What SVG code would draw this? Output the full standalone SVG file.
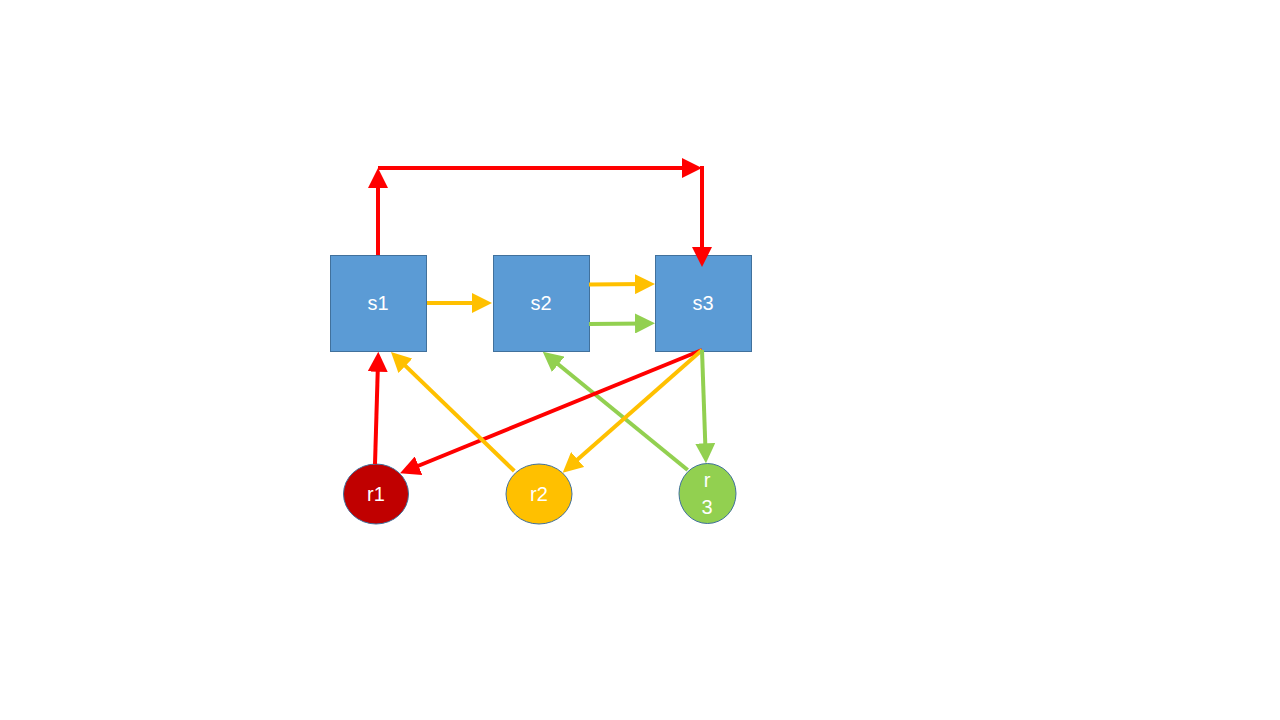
<svg xmlns="http://www.w3.org/2000/svg" width="1280" height="720" viewBox="0 0 1280 720">
<style>
.box{fill:#5B9BD5;stroke:#41719C;stroke-width:1}
.lbl{font-family:"Liberation Sans","Noto Sans",sans-serif;font-size:20px;fill:#FFFFFF;text-anchor:middle}
.ln{fill:none;stroke-width:4}
.red{stroke:#FF0000}
.yel{stroke:#FFC000}
.grn{stroke:#92D050}
.circ{stroke:#41719C;stroke-width:1}
</style>
<defs>
<marker id="aR" markerUnits="userSpaceOnUse" markerWidth="20" markerHeight="20" refX="10" refY="10" orient="auto" viewBox="0 0 20 20"><path d="M0,0 L20,10 L0,20 z" fill="#FF0000"/></marker>
<marker id="aY" markerUnits="userSpaceOnUse" markerWidth="20" markerHeight="20" refX="10" refY="10" orient="auto" viewBox="0 0 20 20"><path d="M0,0 L20,10 L0,20 z" fill="#FFC000"/></marker>
<marker id="aG" markerUnits="userSpaceOnUse" markerWidth="20" markerHeight="20" refX="10" refY="10" orient="auto" viewBox="0 0 20 20"><path d="M0,0 L20,10 L0,20 z" fill="#92D050"/></marker>
</defs>
<rect width="1280" height="720" fill="#FFFFFF"/>
<g id="s1"><rect class="box" x="330.5" y="255.5" width="96" height="96"/><text class="lbl" x="378" y="310">s1</text></g>
<g id="s2"><rect class="box" x="493.5" y="255.5" width="96" height="96"/><text class="lbl" x="541" y="310">s2</text></g>
<g id="s3"><rect class="box" x="655.5" y="255.5" width="96" height="96"/><text class="lbl" x="703" y="310">s3</text></g>
<g id="r1"><ellipse class="circ" cx="376" cy="494" rx="32.5" ry="30" fill="#C00000"/><text class="lbl" x="376" y="501">r1</text></g>
<g id="r2"><ellipse class="circ" cx="539" cy="494" rx="33" ry="30" fill="#FFC000"/><text class="lbl" x="539" y="501">r2</text></g>
<g id="r3"><ellipse class="circ" cx="707.5" cy="493.5" rx="28.5" ry="30" fill="#92D050"/><text class="lbl" x="707" y="487">r</text><text class="lbl" x="707" y="514">3</text></g>
<g id="connectors">
<path class="ln red" d="M378,255 L378,178" marker-end="url(#aR)"/>
<path class="ln red" d="M378,168 L692,168" marker-end="url(#aR)"/>
<path class="ln red" d="M702,166 L702,257" marker-end="url(#aR)"/>
<path class="ln yel" d="M427,303 L482,303" marker-end="url(#aY)"/>
<path class="ln yel" d="M589,284.5 L645,284.1" marker-end="url(#aY)"/>
<path class="ln grn" d="M589,324 L645,323.4" marker-end="url(#aG)"/>
<path class="ln red" d="M375,464 L378,361.7" marker-end="url(#aR)"/>
<path class="ln grn" d="M687.7,470 L550.5,358" marker-end="url(#aG)"/>
<path class="ln red" d="M702,350 L409.3,469.5" marker-end="url(#aR)"/>
<path class="ln yel" d="M514.3,471 L398.2,358.9" marker-end="url(#aY)"/>
<path class="ln yel" d="M702,350 L570.2,466.1" marker-end="url(#aY)"/>
<path class="ln grn" d="M702,350 L705.6,453.3" marker-end="url(#aG)"/>
</g>
</svg>
